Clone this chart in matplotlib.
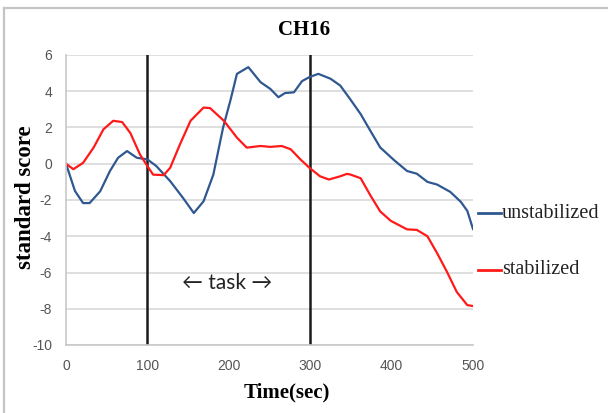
import matplotlib
matplotlib.use("Agg")
import matplotlib.pyplot as plt
from matplotlib.lines import Line2D

plt.rcParams["axes.unicode_minus"] = False

# Data
unstab_t = [0, 11, 21, 29, 42, 54, 64, 75, 87, 100, 111, 128, 144, 157, 169, 181, 193, 202,
            210, 224, 239, 251, 261, 269, 280, 290, 299, 310, 325, 337, 349, 362, 374, 386,
            403, 419, 431, 444, 456, 472, 485, 493, 500]
unstab_v = [0, -1.5, -2.17, -2.17, -1.52, -0.4, 0.33, 0.7, 0.33, 0.24, -0.13, -0.96, -1.9,
            -2.72, -2.07, -0.6, 2.0, 3.5, 4.96, 5.33, 4.5, 4.13, 3.67, 3.9, 3.94, 4.56,
            4.78, 4.96, 4.69, 4.31, 3.57, 2.74, 1.81, 0.9, 0.2, -0.4, -0.55, -1.0, -1.15,
            -1.55, -2.1, -2.6, -3.6]

stab_t = [0, 9, 21, 34, 46, 58, 69, 79, 91, 100, 107, 120, 128, 140, 153, 169, 177, 194,
          210, 222, 239, 251, 265, 276, 288, 299, 312, 323, 337, 345, 349, 362, 374, 386,
          399, 419, 431, 444, 456, 468, 480, 493, 500]
stab_v = [0, -0.3, 0.05, 0.9, 1.9, 2.37, 2.3, 1.7, 0.5, -0.13, -0.6, -0.63, -0.22, 1.07,
          2.37, 3.1, 3.07, 2.37, 1.44, 0.89, 0.98, 0.93, 0.98, 0.8, 0.24, -0.22, -0.69,
          -0.87, -0.69, -0.56, -0.59, -0.8, -1.75, -2.63, -3.15, -3.62, -3.65, -4.0,
          -4.94, -5.96, -7.07, -7.8, -7.85]

task_bounds = [100, 300]
x_ticks = [0, 100, 200, 300, 400, 500]
y_ticks = [6, 4, 2, 0, -2, -4, -6, -8, -10]
title = "CH16"
xlabel = "Time(sec)"
ylabel = "standard score"
series_names = ["unstabilized", "stabilized"]

W, H = 608, 413
fig = plt.figure(figsize=(W / 100, H / 100), dpi=100)

# outer chart frame (top and left edges visible in the reference)
fig.add_artist(Line2D([4 / W, 1], [1 - 8 / H, 1 - 8 / H], color="#c4c4c4", linewidth=1.6))
fig.add_artist(Line2D([4 / W, 4 / W], [0, 1 - 8 / H], color="#c4c4c4", linewidth=1.6))

ax = fig.add_axes([66 / W, 1 - 345 / H, (473 - 66) / W, (345 - 55) / H])

ax.set_xlim(0, 500)
ax.set_ylim(-10, 6)
ax.set_xticks(x_ticks)
ax.set_yticks(y_ticks)
ax.yaxis.grid(True, color="#d9d9d9", linewidth=1.2)
ax.set_axisbelow(True)
for s in ["top", "right"]:
    ax.spines[s].set_visible(False)
for s in ["left", "bottom"]:
    ax.spines[s].set_color("#c8c8c8")
    ax.spines[s].set_linewidth(1.2)
tick_family = ["Liberation Sans Narrow", "Liberation Sans", "DejaVu Sans"]
ax.tick_params(length=0, labelsize=10, colors="#555555")
ax.tick_params(axis="y", pad=10)
ax.tick_params(axis="x", pad=10)
for lab in ax.get_xticklabels() + ax.get_yticklabels():
    lab.set_family(tick_family)

for b in task_bounds:
    ax.axvline(b, color="#1a1a1a", linewidth=1.8)

l1, = ax.plot(unstab_t, unstab_v, color="#2f5890", linewidth=1.6)
l2, = ax.plot(stab_t, stab_v, color="#ff1a1a", linewidth=1.6)

ax.text(198, -6.6, "\u2190 task \u2192", ha="center", va="center",
        fontsize=15, family=["Lato", "DejaVu Sans"], color="#222222")

serif = "Liberation Serif"
fig.text(304 / W, 1 - 30 / H, title, ha="center", va="center",
         fontsize=15, fontweight="bold", family=serif)
fig.text(287 / W, 1 - 392 / H, xlabel, ha="center", va="center",
         fontsize=15, fontweight="bold", family=serif)
fig.text(26 / W, 1 - 197 / H, ylabel, ha="center", va="center", rotation=90,
         fontsize=16.5, fontweight="bold", family=serif)

# legend entries
for line, name, ypx in [(l1, series_names[0], 213), (l2, series_names[1], 270)]:
    yf = 1 - ypx / H
    fig.add_artist(Line2D([478 / W, 501 / W], [yf, yf],
                          color=line.get_color(), linewidth=2))
    fig.text(502 / W, yf, name, ha="left", va="center", fontsize=14.5,
             family=serif, color="#222222")

fig.savefig("out.png", dpi=100)
